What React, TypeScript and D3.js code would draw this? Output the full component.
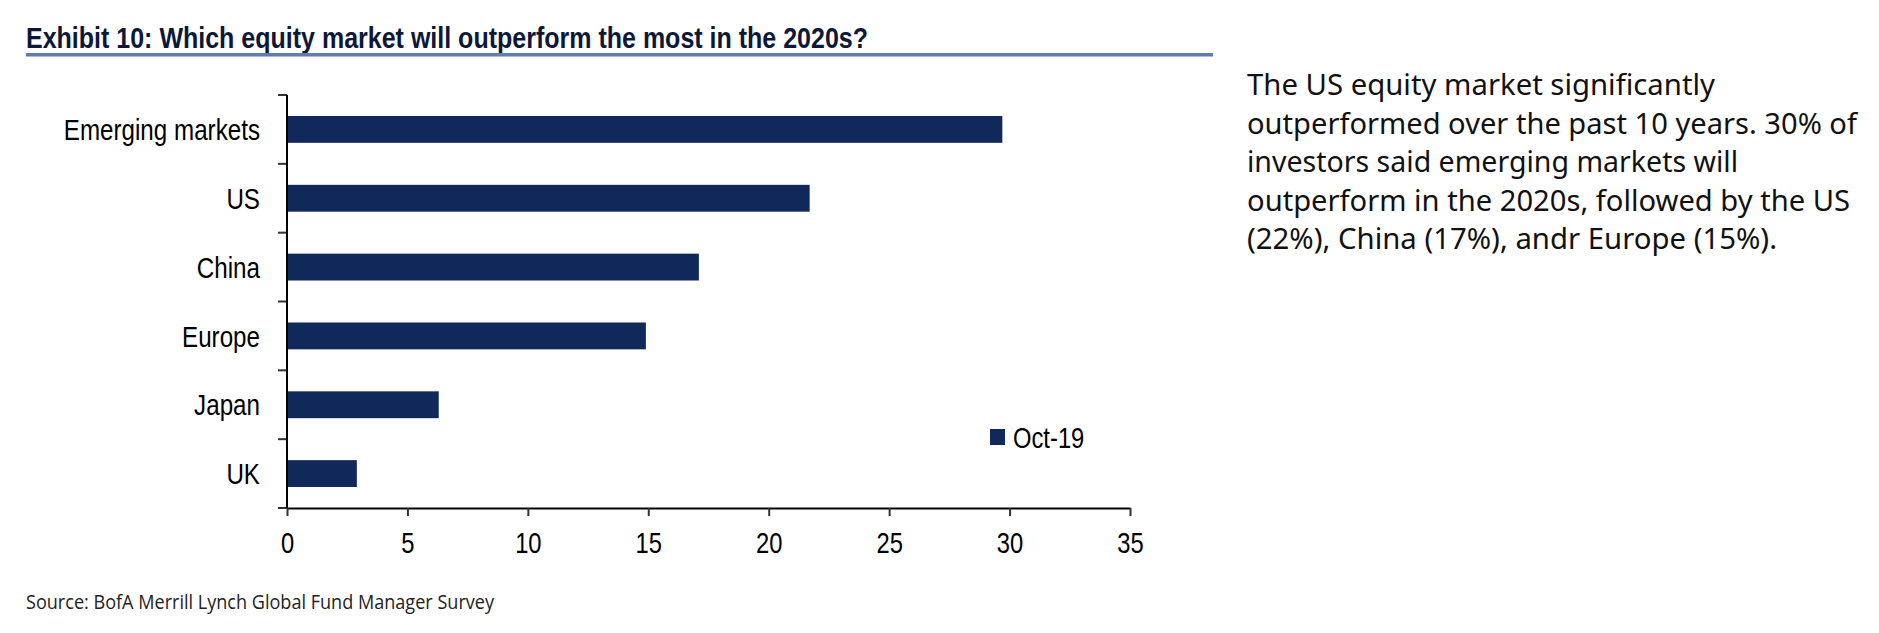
import * as d3 from "d3";
import React, { useEffect, useRef } from "react";

const categories = ["Emerging markets", "US", "China", "Europe", "Japan", "UK"];
const values = [29.7, 21.7, 17.1, 14.9, 6.3, 2.9];
const seriesName = "Oct-19";
const xTicks = [0, 5, 10, 15, 20, 25, 30, 35];

const title = "Exhibit 10: Which equity market will outperform the most in the 2020s?";
const source = "Source:  BofA Merrill Lynch Global Fund Manager Survey";
const noteLines = [
  "The US equity market significantly",
  "outperformed over the past 10 years. 30% of",
  "investors said emerging markets will",
  "outperform in the 2020s, followed by the US",
  "(22%), China (17%), andr Europe (15%).",
];
// right edge of each paragraph line in the reference
const noteEnds = [1715, 1857, 1738, 1850, 1777];

// Arial Narrow is not there: Liberation Sans squeezed horizontally
const sans = "'Liberation Sans', Arial, sans-serif";
const squeeze = 0.82;

const App: React.FC = () => {
  const svgRef = useRef<SVGSVGElement | null>(null);

  useEffect(() => {
    const width = 1879;
    const height = 633;
    const svg = d3.select(svgRef.current);
    svg.selectAll("*").remove();
    svg.attr("width", width).attr("height", height);

    const barColor = "#11295a";

    // titolo e linea
    svg
      .append("text")
      .attr("x", 26)
      .attr("y", 48)
      .attr("font-family", sans)
      .attr("font-weight", "bold")
      .attr("font-size", 29)
      .attr("fill", "#0d1838")
      .attr("textLength", 842)
      .attr("lengthAdjust", "spacingAndGlyphs")
      .text(title);

    svg
      .append("rect")
      .attr("x", 26)
      .attr("y", 53)
      .attr("width", 1213 - 26)
      .attr("height", 3.5)
      .attr("fill", "#5f7db0");

    // scale
    const x = d3.scaleLinear().domain([0, 35]).range([287, 1130]);
    const y = d3
      .scaleBand<string>()
      .domain(categories)
      .range([95, 508])
      .paddingInner(0.61)
      .paddingOuter(0.305);

    const y0 = y.range()[0];
    const y1 = y.range()[1];
    const bounds = d3.range(categories.length + 1).map((i) => y0 + i * y.step());

    // barre
    svg
      .append("g")
      .selectAll("rect")
      .data(values)
      .join("rect")
      .attr("x", x(0))
      .attr("y", (_, i) => y(categories[i])!)
      .attr("width", (d) => x(d) - x(0))
      .attr("height", y.bandwidth())
      .attr("fill", barColor);

    // asse Y
    const yAxis = svg.append("g");
    yAxis
      .selectAll("line.tick")
      .data(bounds)
      .join("line")
      .attr("class", "tick")
      .attr("x1", x(0) - 9)
      .attr("x2", x(0))
      .attr("y1", (d) => d)
      .attr("y2", (d) => d)
      .attr("stroke", "#333")
      .attr("stroke-width", 2);
    yAxis
      .append("line")
      .attr("x1", x(0))
      .attr("x2", x(0))
      .attr("y1", y0)
      .attr("y2", y1)
      .attr("stroke", "#000")
      .attr("stroke-width", 2);

    svg
      .append("g")
      .selectAll("text")
      .data(categories)
      .join("text")
      .attr(
        "transform",
        (d) => `translate(260,${y(d)! + y.bandwidth() / 2}) scale(${squeeze},1)`
      )
      .attr("dy", "0.36em")
      .attr("text-anchor", "end")
      .attr("font-family", sans)
      .attr("font-size", 29.5)
      .attr("fill", "#000")
      .text((d) => d);

    // asse X
    const xAxis = svg
      .append("g")
      .attr("transform", `translate(0,${y1})`)
      .call(
        d3
          .axisBottom(x)
          .tickValues(xTicks)
          .tickSize(8)
          .tickSizeOuter(0)
          .tickPadding(16)
          .tickFormat((d) => String(d))
      );
    xAxis.select(".domain").attr("stroke", "#000").attr("stroke-width", 2);
    xAxis.selectAll(".tick line").attr("stroke", "#333").attr("stroke-width", 2);
    xAxis
      .selectAll(".tick text")
      .attr("transform", `scale(${squeeze},1)`)
      .attr("font-family", sans)
      .attr("font-size", 29)
      .attr("fill", "#000");

    // legenda
    const legend = svg.append("g").attr("transform", "translate(990,429)");
    legend.append("rect").attr("width", 15).attr("height", 16).attr("fill", barColor);
    legend
      .append("text")
      .attr("transform", `translate(23,19) scale(${squeeze},1)`)
      .attr("font-family", sans)
      .attr("font-size", 29)
      .attr("fill", "#000")
      .text(seriesName);

    // fonte
    svg
      .append("text")
      .attr("x", 26)
      .attr("y", 609)
      .attr("font-family", "'Open Sans', 'Noto Sans', sans-serif")
      .attr("font-size", 20)
      .attr("fill", "#222")
      .attr("textLength", 468)
      .attr("lengthAdjust", "spacingAndGlyphs")
      .text(source);

    // commento a destra
    svg
      .append("g")
      .selectAll("text")
      .data(noteLines)
      .join("text")
      .attr("x", 1247)
      .attr("y", (_, i) => 95 + i * 38.5)
      .attr("font-family", "'Noto Sans', 'Open Sans', sans-serif")
      .attr("font-size", 29.5)
      .attr("fill", "#111")
      .attr("textLength", (_, i) => noteEnds[i] - 1247)
      .attr("lengthAdjust", "spacingAndGlyphs")
      .text((d) => d);
  }, []);

  return (
    <svg
      ref={svgRef}
      style={{ position: "absolute", left: 0, top: 0, background: "#fff" }}
    />
  );
};

export default App;
